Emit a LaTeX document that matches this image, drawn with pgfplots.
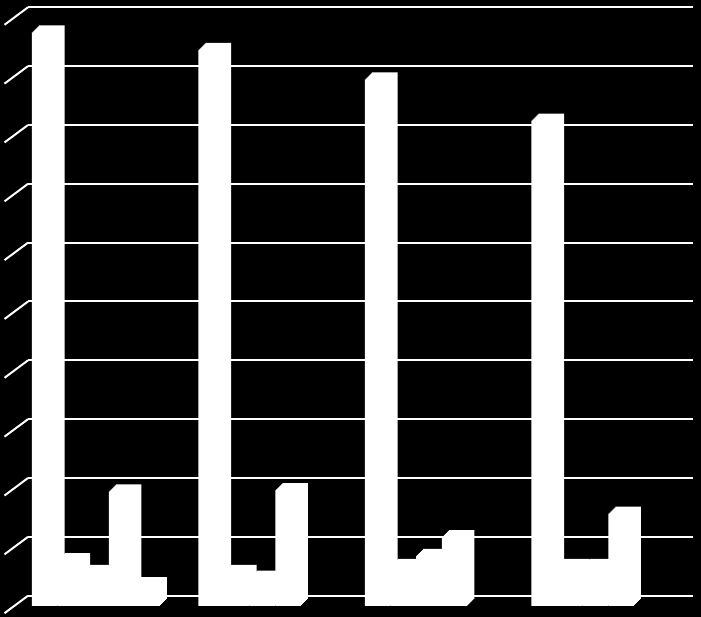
\documentclass[border=0pt]{standalone}
\usepackage{pgfplots}
\usepackage{pgfplotstable}
\pgfplotsset{compat=1.18}

% values (gridline = 1 unit); nan = no bar drawn
\pgfplotstableread{
grp A    B    C    D    E
1   9.75 0.78 0.58 1.95 0.37
2   9.45 0.58 0.48 1.97 nan
3   8.95 0.68 0.85 1.17 nan
4   8.25 0.68 0.68 1.57 nan
}\datatable

% one white 3D-looking bar series: stacked copies shifted up-right give depth
\newcommand{\solidbars}[2]{%
  \pgfplotsinvokeforeach{0,...,7}{
    \addplot[ybar, fill=white, draw=none, bar shift=#2,
      xshift=##1pt, yshift=##1pt] table[x=grp, y=#1] {\datatable};
  }}

\begin{document}
\begin{tikzpicture}
\begin{axis}[
    scale only axis,
    width=701pt, height=617pt,
    xmin=0.4234, xmax=4.6336,
    ymin=-0.187, ymax=10.299,
    axis background/.style={fill=black},
    axis line style={draw=none},
    xtick=\empty, ytick=\empty,
    bar width=0.1538,
    unbounded coords=discard,
    ]
    % back wall and side wall grid
    \pgfplotsinvokeforeach{0,...,10}{
        \draw[white, line width=2pt] (axis cs:0.5916,#1+0.175) -- (axis cs:4.5838,#1+0.175);
        \draw[white, line width=2pt] (axis cs:0.5916,#1+0.175) -- ++(-23.5pt,-17.5pt);
    }
    \solidbars{A}{-0.3076}
    \solidbars{B}{-0.1538}
    \solidbars{C}{0}
    \solidbars{D}{0.1538}
    \solidbars{E}{0.3076}
\end{axis}
\end{tikzpicture}
\end{document}
